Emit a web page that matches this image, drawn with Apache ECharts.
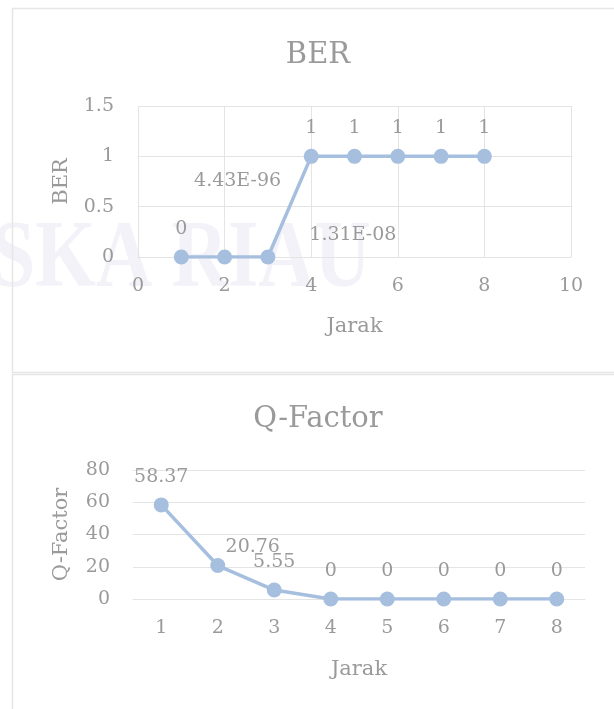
<!DOCTYPE html>
<html>
<head>
<meta charset="utf-8">
<script src="https://cdn.jsdelivr.net/npm/echarts@6/dist/echarts.min.js"></script>
<style>
html,body{margin:0;padding:0;background:#fff;}
#c{width:614px;height:709px;}
</style>
</head>
<body>
<div id="c"></div>
<script>
// ---- data ----
const berJarak = [1, 2, 3, 4, 5, 6, 7, 8];
const berValues = [0, 4.43e-96, 1.31e-8, 1, 1, 1, 1, 1];
const berXTicks = [0, 2, 4, 6, 8, 10];
const berYTicks = [0, 0.5, 1, 1.5];
const qCategories = ['1', '2', '3', '4', '5', '6', '7', '8'];
const qValues = [58.37, 20.76, 5.55, 0, 0, 0, 0, 0];
const qYTicks = [0, 20, 40, 60, 80];

// ---- styles ----
const FONT = 'DejaVu Serif';
const TXT = '#9a9a9a';
const GRID = '#e4e4e4';
const LINE = '#a6bfdf';
// manual label nudges (Excel-moved labels)
const berLabelOffsets = {1: [13, -48], 2: [85, 6]};
const qLabelOffsets = {1: [35, 10]};

function excelGeneral(v) {
  if (v === 0 || Number.isInteger(v)) return String(v);
  if (Math.abs(v) < 1e-4) {
    let s = v.toExponential(2).toUpperCase();
    return s.replace(/E([+-])(\d)$/, 'E$10$2');
  }
  return String(v);
}

const chart = echarts.init(document.getElementById('c'), null, {renderer: 'canvas'});

const labelBase = {
  show: true, position: 'top', distance: 11,
  color: TXT, fontFamily: FONT, fontSize: 19
};

const option = {
  backgroundColor: '#fff',
  animation: false,
  textStyle: {fontFamily: FONT},
  graphic: [
    {type: 'text', z: -10, silent: true, x: -8, y: 261, scaleX: 0.82,
     style: {text: 'SKA RIAU', x: 0, y: 0, verticalAlign: 'middle',
             font: 'bold 95px "Liberation Serif"', fill: '#f3f2f8'}},
    {type: 'rect', z: -5, shape: {x: 12.5, y: 8.5, width: 620, height: 364}, silent: true,
     style: {fill: 'none', stroke: '#e6e6e6', lineWidth: 1.5}},
    {type: 'rect', z: -5, shape: {x: 12.5, y: 374.5, width: 620, height: 360}, silent: true,
     style: {fill: 'none', stroke: '#e6e6e6', lineWidth: 1.5}}
  ],
  title: [
    {text: 'BER', left: 313, top: 36, textAlign: 'center',
     textStyle: {fontFamily: FONT, fontSize: 29, fontWeight: 'normal', color: TXT}},
    {text: 'Q-Factor', left: 313, top: 400, textAlign: 'center',
     textStyle: {fontFamily: FONT, fontSize: 29, fontWeight: 'normal', color: TXT}}
  ],
  grid: [
    {left: 138, top: 106, width: 433, height: 151},
    {left: 133, top: 470, width: 452, height: 129}
  ],
  xAxis: [
    {type: 'value', gridIndex: 0, min: berXTicks[0], max: berXTicks[berXTicks.length - 1],
     interval: berXTicks[1] - berXTicks[0],
     name: 'Jarak', nameLocation: 'middle', nameGap: 59,
     nameTextStyle: {color: TXT, fontFamily: FONT, fontSize: 21},
     axisLine: {show: true, lineStyle: {color: GRID}}, axisTick: {show: false},
     axisLabel: {color: TXT, fontFamily: FONT, fontSize: 19, margin: 20},
     splitLine: {show: true, lineStyle: {color: GRID}}},
    {type: 'category', gridIndex: 1, data: qCategories, boundaryGap: true,
     name: 'Jarak', nameLocation: 'middle', nameGap: 60,
     nameTextStyle: {color: TXT, fontFamily: FONT, fontSize: 21},
     axisLine: {show: true, lineStyle: {color: GRID}}, axisTick: {show: false},
     axisLabel: {color: TXT, fontFamily: FONT, fontSize: 19, margin: 20},
     splitLine: {show: false}}
  ],
  yAxis: [
    {type: 'value', gridIndex: 0, min: berYTicks[0], max: berYTicks[berYTicks.length - 1],
     interval: berYTicks[1] - berYTicks[0],
     name: 'BER', nameLocation: 'middle', nameGap: 66, nameRotate: 90,
     nameTextStyle: {color: TXT, fontFamily: FONT, fontSize: 21},
     axisLine: {show: false}, axisTick: {show: false},
     axisLabel: {color: TXT, fontFamily: FONT, fontSize: 19, margin: 24},
     splitLine: {show: true, lineStyle: {color: GRID}}},
    {type: 'value', gridIndex: 1, min: qYTicks[0], max: qYTicks[qYTicks.length - 1],
     interval: qYTicks[1] - qYTicks[0],
     name: 'Q-Factor', nameLocation: 'middle', nameGap: 61, nameRotate: 90,
     nameTextStyle: {color: TXT, fontFamily: FONT, fontSize: 21},
     axisLine: {show: false}, axisTick: {show: false},
     axisLabel: {color: TXT, fontFamily: FONT, fontSize: 19, margin: 23},
     splitLine: {show: true, lineStyle: {color: GRID}}}
  ],
  series: [
    {type: 'line', xAxisIndex: 0, yAxisIndex: 0,
     data: berJarak.map((x, i) => {
       const d = {value: [x, berValues[i]]};
       if (berLabelOffsets[i]) d.label = {offset: berLabelOffsets[i]};
       return d;
     }),
     symbol: 'circle', symbolSize: 15, showSymbol: true,
     lineStyle: {color: LINE, width: 3.5}, itemStyle: {color: LINE},
     label: Object.assign({}, labelBase, {formatter: p => excelGeneral(p.value[1])})},
    {type: 'line', xAxisIndex: 1, yAxisIndex: 1,
     data: qValues.map((v, i) => {
       const d = {value: v};
       if (qLabelOffsets[i]) d.label = {offset: qLabelOffsets[i]};
       return d;
     }),
     symbol: 'circle', symbolSize: 15, showSymbol: true,
     lineStyle: {color: LINE, width: 3.5}, itemStyle: {color: LINE},
     label: Object.assign({}, labelBase, {formatter: p => excelGeneral(p.value)})}
  ]
};
chart.setOption(option);
</script>
</body>
</html>
